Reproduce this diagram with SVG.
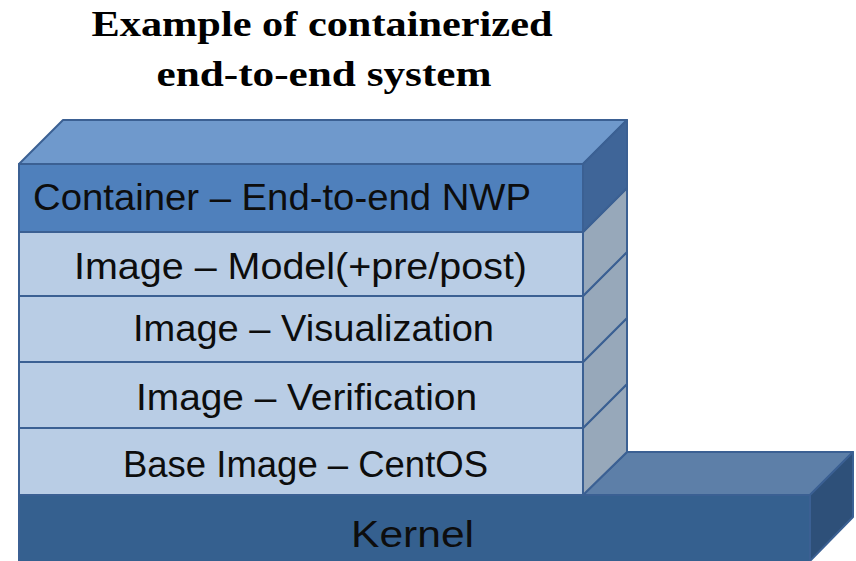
<svg xmlns="http://www.w3.org/2000/svg" width="856" height="561" viewBox="0 0 856 561">
  <style>
    .edge { stroke: #3B6093; stroke-width: 2; stroke-linejoin: round; }
    .lbl { font-family: "Liberation Sans", Arial, sans-serif; font-size: 36px; fill: #0d0d0d; }
    .title { font-family: "Liberation Serif", "Times New Roman", serif; font-weight: bold; font-size: 36px; fill: #000; text-anchor: middle; }
  </style>
  <rect width="856" height="561" fill="#ffffff"/>

  <g id="title">
    <text class="title" x="322" y="36" textLength="461" lengthAdjust="spacingAndGlyphs">Example of containerized</text>
    <text class="title" x="324" y="86" textLength="335" lengthAdjust="spacingAndGlyphs">end-to-end system</text>
  </g>

  <g id="kernel">
    <polygon class="edge" points="583,495 627,452 853,452 810,495" fill="#5D7FA8"/>
    <polygon class="edge" points="810,495 853,452 853,517 810,561" fill="#2E5079"/>
    <rect class="edge" x="19" y="495" width="791" height="68" fill="#35608F"/>
    <text class="lbl" x="351" y="547" font-size="44" textLength="123" lengthAdjust="spacingAndGlyphs">Kernel</text>
  </g>

  <g id="base-image">
    <polygon class="edge" points="583,428 627,384 627,452 583,495" fill="#97A8BA"/>
    <rect class="edge" x="19" y="428" width="564" height="67" fill="#B9CDE5"/>
    <text class="lbl" x="123" y="477" textLength="365" lengthAdjust="spacingAndGlyphs">Base Image – CentOS</text>
  </g>

  <g id="image-verification">
    <polygon class="edge" points="583,362 627,318 627,384 583,428" fill="#97A8BA"/>
    <rect class="edge" x="19" y="362" width="564" height="66" fill="#B9CDE5"/>
    <text class="lbl" x="136" y="410" textLength="341" lengthAdjust="spacingAndGlyphs">Image – Verification</text>
  </g>

  <g id="image-visualization">
    <polygon class="edge" points="583,296 627,252 627,318 583,362" fill="#97A8BA"/>
    <rect class="edge" x="19" y="296" width="564" height="66" fill="#B9CDE5"/>
    <text class="lbl" x="133" y="341" textLength="361" lengthAdjust="spacingAndGlyphs">Image – Visualization</text>
  </g>

  <g id="image-model">
    <polygon class="edge" points="583,232 627,188 627,252 583,296" fill="#97A8BA"/>
    <rect class="edge" x="19" y="232" width="564" height="64" fill="#B9CDE5"/>
    <text class="lbl" x="74" y="279" textLength="453" lengthAdjust="spacingAndGlyphs">Image – Model(+pre/post)</text>
  </g>

  <g id="container">
    <polygon class="edge" points="19,164 63,120 627,120 583,164" fill="#6F99CC"/>
    <polygon class="edge" points="583,164 627,120 627,188 583,232" fill="#3F6598"/>
    <rect class="edge" x="19" y="164" width="564" height="68" fill="#4F80BC"/>
    <text class="lbl" x="33" y="210" textLength="498" lengthAdjust="spacingAndGlyphs">Container – End-to-end NWP</text>
  </g>
</svg>
